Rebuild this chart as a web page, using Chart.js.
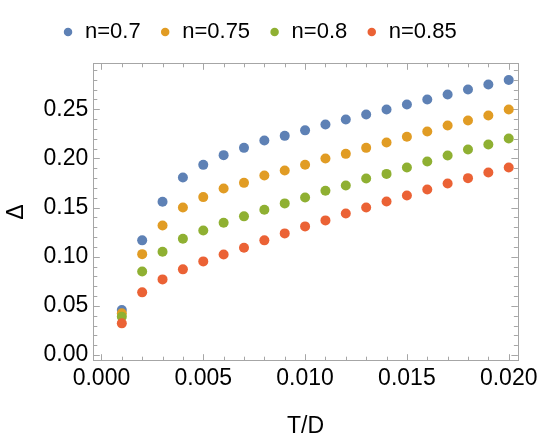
<!DOCTYPE html>
<html><head><meta charset="utf-8">
<script src="https://cdn.jsdelivr.net/npm/chart.js@4/dist/chart.umd.min.js"></script>
<style>html,body{margin:0;padding:0;background:#fff}#wrap{width:542px;height:442px}</style>
</head><body><div id="wrap"><canvas id="c" width="542" height="442"></canvas></div>
<script>
const tValues = [0.001,0.002,0.003,0.004,0.005,0.006,0.007,0.008,0.009,0.010,0.011,0.012,0.013,0.014,0.015,0.016,0.017,0.018,0.019,0.020];
const seriesNames = ['n=0.7','n=0.75','n=0.8','n=0.85'];
const deltaN070 = [0.0457,0.1166,0.1558,0.1806,0.1934,0.2033,0.2107,0.2182,0.2229,0.2285,0.2344,0.2395,0.2446,0.2497,0.2548,0.2598,0.2649,0.2700,0.2751,0.2798];
const deltaN075 = [0.0424,0.1026,0.1318,0.1500,0.1606,0.1694,0.1751,0.1826,0.1877,0.1936,0.1999,0.2046,0.2107,0.2162,0.2219,0.2273,0.2334,0.2385,0.2436,0.2497];
const deltaN080 = [0.0389,0.0850,0.1050,0.1182,0.1267,0.1345,0.1410,0.1477,0.1542,0.1602,0.1670,0.1724,0.1795,0.1842,0.1907,0.1968,0.2029,0.2090,0.2141,0.2202];
const deltaN085 = [0.0322,0.0637,0.0769,0.0871,0.0952,0.1023,0.1090,0.1166,0.1237,0.1308,0.1369,0.1440,0.1500,0.1562,0.1623,0.1684,0.1745,0.1799,0.1857,0.1907];
const xTickLabels = [0, 0.005, 0.010, 0.015, 0.020];
const yTickLabels = [0, 0.05, 0.10, 0.15, 0.20, 0.25];
const colors = ['#5E81B5','#E19C24','#8FB032','#EB6235'];

const xMinorStep = 0.001, yMinorStep = 0.01;
const FRAME = '#a6a6a6';
const LEGEND_GAP = 10.3;

const allSeries = [deltaN070, deltaN075, deltaN080, deltaN085];
const datasets = allSeries.map((vals, i) => ({
  label: seriesNames[i],
  data: vals.map((v, j) => ({x: tValues[j], y: v})),
  backgroundColor: colors[i],
  borderColor: colors[i],
  borderWidth: 0,
  pointRadius: 5,
  pointHoverRadius: 5,
  pointStyle: 'circle',
  order: allSeries.length - i
}));

const legendGap = {
  id: 'legendGap',
  beforeLayout(chart) {
    const lg = chart.legend;
    if (lg && !lg._gapPatched) {
      const f = lg.fit;
      lg.fit = function () { f.call(this); this.height += LEGEND_GAP; };
      lg._gapPatched = true;
    }
  }
};

const framePlugin = {
  id: 'frame',
  beforeDatasetsDraw(chart) {
    const {ctx, chartArea: a, scales: {x, y}} = chart;
    ctx.save();
    ctx.strokeStyle = FRAME;
    ctx.lineWidth = 1;
    ctx.strokeRect(Math.round(a.left) + 0.5, Math.round(a.top) + 0.5, Math.round(a.right - a.left), Math.round(a.bottom - a.top));
    const tick = (x1, y1, x2, y2) => { ctx.beginPath(); ctx.moveTo(x1, y1); ctx.lineTo(x2, y2); ctx.stroke(); };
    const nx = Math.round(x.max / xMinorStep);
    for (let k = 0; k <= nx; k++) {
      const v = k * xMinorStep;
      if (v < x.min) continue;
      const px = Math.round(x.getPixelForValue(v)) + 0.5;
      const major = k % 5 === 0;
      const L = major ? 6.5 : 4;
      tick(px, a.bottom, px, a.bottom - L);
      tick(px, a.top, px, a.top + L);
    }
    const ny = Math.round(y.max / yMinorStep);
    for (let k = 0; k <= ny; k++) {
      const v = k * yMinorStep;
      if (v < y.min || v > y.max) continue;
      const py = Math.round(y.getPixelForValue(v)) + 0.5;
      const major = k % 5 === 0;
      const L = major ? 6.5 : 4;
      tick(a.left, py, a.left + L, py);
      tick(a.right, py, a.right - L, py);
    }
    ctx.restore();
  }
};

Chart.defaults.font.family = "'Liberation Sans', Arial, sans-serif";
Chart.defaults.color = '#000';

new Chart(document.getElementById('c'), {
  type: 'scatter',
  data: {datasets},
  options: {
    responsive: false,
    animation: false,
    devicePixelRatio: 1,
    layout: {padding: {top: 2.5, right: 23.3, bottom: 0, left: 0}},
    plugins: {
      legend: {
        position: 'top',
        align: 'center',
        labels: {
          usePointStyle: true,
          boxWidth: 12,
          boxHeight: 6,
          padding: 18.5,
          color: '#000',
          font: {size: 22},
          sort: (a, b) => a.datasetIndex - b.datasetIndex
        }
      },
      tooltip: {enabled: false}
    },
    scales: {
      x: {
        type: 'linear',
        min: -0.0004,
        max: 0.02045,
        grid: {display: false, drawTicks: false},
        border: {display: false},
        afterBuildTicks: s => { s.ticks = xTickLabels.map(v => ({value: v})); },
        afterFit: s => { s.height = 81.3; },
        ticks: {padding: 4, font: {size: 23}, color: '#000', maxRotation: 0, callback: v => Number(v).toFixed(3)},
        title: {display: true, text: 'T/D', font: {size: 23}, color: '#000', padding: {top: 0, bottom: 2}}
      },
      y: {
        type: 'linear',
        min: -0.0058,
        max: 0.2967,
        grid: {display: false, drawTicks: false},
        border: {display: false},
        afterBuildTicks: s => { s.ticks = yTickLabels.map(v => ({value: v})); },
        afterFit: s => { s.width = 93.3; },
        ticks: {padding: 5, font: {size: 23}, color: '#000', callback: v => Number(v).toFixed(2)},
        title: {display: true, text: 'Δ', font: {size: 23}, color: '#000', padding: {top: 3, bottom: 0}}
      }
    }
  },
  plugins: [legendGap, framePlugin]
});
</script>
</body></html>
